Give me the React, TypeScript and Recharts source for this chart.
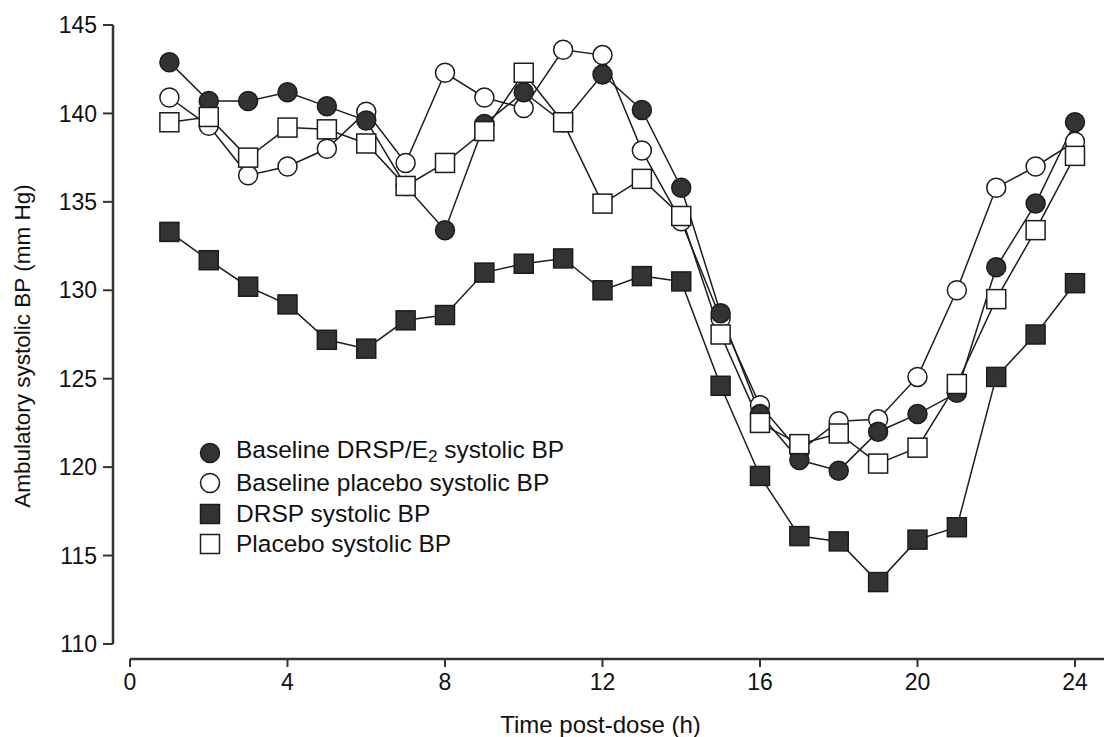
import React from "react";
import { LineChart, Line, XAxis, YAxis, ReferenceLine } from "recharts";

// hours post-dose
const hours = [1, 2, 3, 4, 5, 6, 7, 8, 9, 10, 11, 12, 13, 14, 15, 16, 17, 18, 19, 20, 21, 22, 23, 24];

// systolic BP (mm Hg)
const baselineDrsp = [142.9, 140.7, 140.7, 141.2, 140.4, 139.6, 135.9, 133.4, 139.4, 141.2, 139.5, 142.2, 140.2, 135.8, 128.7, 123.0, 120.4, 119.8, 122.0, 123.0, 124.2, 131.3, 134.9, 139.5];
const baselinePlacebo = [140.9, 139.3, 136.5, 137.0, 138.0, 140.1, 137.2, 142.3, 140.9, 140.3, 143.6, 143.3, 137.9, 133.9, 128.4, 123.5, 120.9, 122.6, 122.7, 125.1, 130.0, 135.8, 137.0, 138.4];
const drsp = [133.3, 131.7, 130.2, 129.2, 127.2, 126.7, 128.3, 128.6, 131.0, 131.5, 131.8, 130.0, 130.8, 130.5, 124.6, 119.5, 116.1, 115.8, 113.5, 115.9, 116.6, 125.1, 127.5, 130.4];
const placebo = [139.5, 139.8, 137.5, 139.2, 139.1, 138.3, 135.9, 137.2, 139.0, 142.3, 139.5, 134.9, 136.3, 134.2, 127.5, 122.5, 121.3, 121.9, 120.2, 121.1, 124.7, 129.5, 133.4, 137.6];

const xTicks = [0, 4, 8, 12, 16, 20, 24];
const yTicks = [110, 115, 120, 125, 130, 135, 140, 145];

const legendLabels = [
  "Baseline DRSP/E\u2082 systolic BP",
  "Baseline placebo systolic BP",
  "DRSP systolic BP",
  "Placebo systolic BP",
];

const FONT = "'Liberation Sans', Arial, Helvetica, sans-serif";
const DARK = "#333333";
const LINE = "#1c1c1c";

const X_MIN = -0.432;
const X_MAX = 24.737;
const Y_MIN = 109.15;

const chartData = hours.map((h, i) => ({
  hour: h,
  baselineDrsp: baselineDrsp[i],
  baselinePlacebo: baselinePlacebo[i],
  drsp: drsp[i],
  placebo: placebo[i],
}));

const squareDot = (fill: string) => (props: any) => {
  const { cx, cy, index } = props;
  if (cx == null || cy == null) return <g key={`e-${index}`} />;
  return (
    <rect
      key={`sq-${fill}-${index}`}
      x={cx - 9.5}
      y={cy - 9.5}
      width={19}
      height={19}
      fill={fill}
      stroke={LINE}
      strokeWidth={1.5}
    />
  );
};

const LegendSymbol = ({ kind }: { kind: number }) => (
  <svg width={22} height={22} style={{ verticalAlign: "middle", flex: "none" }}>
    {kind === 0 && <circle cx={11} cy={11} r={9.5} fill={DARK} stroke={LINE} strokeWidth={1.5} />}
    {kind === 1 && <circle cx={11} cy={11} r={9.5} fill="#fff" stroke={LINE} strokeWidth={1.5} />}
    {kind === 2 && <rect x={1.5} y={1.5} width={19} height={19} fill={DARK} stroke={LINE} strokeWidth={1.5} />}
    {kind === 3 && <rect x={1.5} y={1.5} width={19} height={19} fill="#fff" stroke={LINE} strokeWidth={1.5} />}
  </svg>
);

const renderLabel = (label: string) => {
  const parts = label.split("\u2082");
  if (parts.length === 1) return label;
  return (
    <>
      {parts[0]}
      <sub style={{ fontSize: "0.7em", verticalAlign: "-0.25em" }}>2</sub>
      {parts[1]}
    </>
  );
};

export default function App() {
  return (
    <div style={{ position: "relative", width: 1104, height: 737, background: "#fff", fontFamily: FONT }}>
      <style>{`body{margin:0;background:#fff}`}</style>
      <LineChart
        width={1104}
        height={737}
        data={chartData}
        margin={{ top: 25, right: 0, bottom: 0, left: 0 }}
      >
        <XAxis
          dataKey="hour"
          type="number"
          domain={[X_MIN, X_MAX]}
          allowDataOverflow
          ticks={xTicks}
          axisLine={false}
          tickLine={{ stroke: DARK, strokeWidth: 2 }}
          tickSize={8}
          tickMargin={7}
          height={78}
          tick={{ fill: "#111", fontSize: 23, fontFamily: FONT }}
          label={{
            value: "Time post-dose (h)",
            position: "insideBottom",
            offset: 4,
            dx: -8,
            style: { fill: "#111", fontSize: 24, fontFamily: FONT },
          }}
        />
        <YAxis
          type="number"
          domain={[Y_MIN, 145]}
          allowDataOverflow
          ticks={yTicks}
          axisLine={false}
          tickLine={{ stroke: DARK, strokeWidth: 2 }}
          tickSize={10}
          tickMargin={6}
          width={113}
          tick={{ fill: "#111", fontSize: 23, fontFamily: FONT }}
          label={{
            value: "Ambulatory systolic BP (mm Hg)",
            angle: -90,
            position: "insideLeft",
            offset: 0,
            dx: 22,
            dy: 4,
            style: { fill: "#111", fontSize: 22.5, fontFamily: FONT, textAnchor: "middle" },
          }}
        />
        <ReferenceLine
          segment={[{ x: X_MIN, y: 110 }, { x: X_MIN, y: 145 }]}
          stroke={DARK}
          strokeWidth={2.5}
        />
        <ReferenceLine
          segment={[{ x: 0, y: Y_MIN }, { x: X_MAX, y: Y_MIN }]}
          stroke={DARK}
          strokeWidth={2.5}
        />
        <Line
          type="linear"
          dataKey="baselinePlacebo"
          stroke={LINE}
          strokeWidth={1.5}
          dot={{ r: 9.5, fill: "#fff", stroke: LINE, strokeWidth: 1.5 }}
          isAnimationActive={false}
        />
        <Line
          type="linear"
          dataKey="baselineDrsp"
          stroke={LINE}
          strokeWidth={1.5}
          dot={{ r: 9.5, fill: DARK, stroke: LINE, strokeWidth: 1.5 }}
          isAnimationActive={false}
        />
        <Line
          type="linear"
          dataKey="placebo"
          stroke={LINE}
          strokeWidth={1.5}
          dot={squareDot("#fff")}
          isAnimationActive={false}
        />
        <Line
          type="linear"
          dataKey="drsp"
          stroke={LINE}
          strokeWidth={1.5}
          dot={squareDot(DARK)}
          isAnimationActive={false}
        />
      </LineChart>
      <div
        style={{
          position: "absolute",
          left: 199,
          top: 438,
          fontSize: 24.5,
          lineHeight: "30.3px",
          color: "#111",
        }}
      >
        {legendLabels.map((label, i) => (
          <div key={label} style={{ display: "flex", alignItems: "center", height: 30.3 }}>
            <LegendSymbol kind={i} />
            <span style={{ marginLeft: 15, whiteSpace: "nowrap" }}>{renderLabel(label)}</span>
          </div>
        ))}
      </div>
    </div>
  );
}
